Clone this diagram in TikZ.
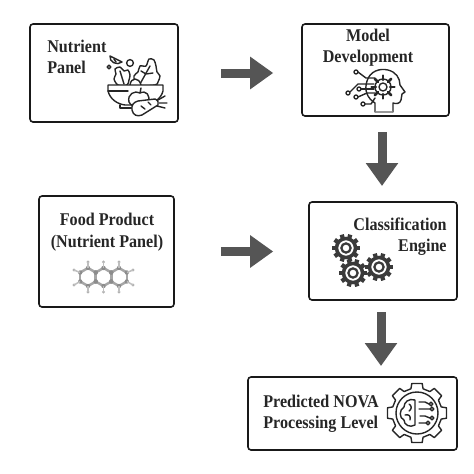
\documentclass[tikz,border=0pt]{standalone}
\usepackage{fontspec}
\setmainfont{Liberation Serif}
\newfontfamily\labfont[FakeStretch=0.9]{Liberation Serif}
\usetikzlibrary{arrows.meta}
\definecolor{flowgray}{HTML}{555555}
\definecolor{icongray}{HTML}{3A3A3A}

\newcommand{\gearteeth}[3]{% centre, radius, tooth count
    \begin{scope}[shift={(#1)}]
        \foreach \k in {1,...,#3} {
            \draw[line width=0.085cm,color=icongray] ({\k*360/#3}:#2*0.7) -- ({\k*360/#3}:#2);
        }
        \draw[line width=0.07cm,color=icongray] (0,0) circle (#2*0.68);
        \draw[line width=0.045cm,color=icongray] (0,0) circle (#2*0.33);
    \end{scope}
}

\begin{document}
\begin{tikzpicture}[
    x=0.02cm,y=-0.02cm,
    box/.style={draw=black!90,line width=0.032cm,rectangle,rounded corners=0.06cm,inner sep=0pt},
    lab/.style={font=\fontsize{10.2}{12.2}\labfont\bfseries,text=black!85,inner sep=0pt},
    flow/.style={-{Triangle[length=0.46cm,width=0.62cm]},line width=0.18cm,color=flowgray},
    icon/.style={line width=0.028cm,color=black!85,line join=round,line cap=round},
]

    \useasboundingbox (0,0) rectangle (474,474);

    % boxes
    \node[box,minimum width=2.96cm,minimum height=1.96cm] (panel) at (104,73) {};
    \node[box,minimum width=2.94cm,minimum height=1.84cm] (model) at (375.5,70) {};
    \node[box,minimum width=2.70cm,minimum height=2.22cm] (food) at (106.5,251.5) {};
    \node[box,minimum width=2.96cm,minimum height=1.96cm] (engine) at (383,251) {};
    \node[box,minimum width=4.18cm,minimum height=1.46cm] (nova) at (352.5,413.5) {};

    % labels
    \node[lab,align=left,anchor=west] (panellab) at (47,57) {Nutrient\\Panel};
    \node[lab,align=center] (modellab) at (368,47.5) {Model\\Development};
    \node[lab,align=center] (foodlab) at (107,232) {Food Product\\(Nutrient Panel)};
    \node[lab,align=right,anchor=east] (enginelab) at (447,236.5) {Classification\\Engine};
    \node[lab,align=left,anchor=west] (novalab) at (263,414) {Predicted NOVA\\Processing Level};

    % arrows
    \coordinate (down1a) at (382,132);
    \coordinate (down1b) at (382,186);
    \coordinate (down2a) at (381,312);
    \coordinate (down2b) at (381,366);
    \draw[flow,shorten <=0.84cm,shorten >=0.56cm] (panel.east) -- (panel.east -| model.west);
    \draw[flow,shorten <=0.92cm,shorten >=0.70cm] (food.east) -- (food.east -| engine.west);
    \draw[flow] (down1a) -- (down1b);
    \draw[flow] (down2a) -- (down2b);

    % salad bowl
    \begin{scope}[icon]
        \draw plot[smooth cycle] coordinates {(118,85) (114,79) (116,74) (115,69) (120,67) (124,71) (128,70) (130,75) (129,80) (127,85)};
        \draw (120,71) -- (124,84);
        \draw plot[smooth cycle] coordinates {(137,85) (134,76) (138,72) (140,66) (146,66) (149,59) (154,60) (156,66) (157,72) (160,76) (158,82) (155,85)};
        \draw (140,84) -- (150,66) (146,74) -- (141,71) (146,74) -- (153,73);
        \draw[fill=white] (130,85) .. controls (131,77) and (139,77) .. (141,85);
        \draw (110,56) -- (122,62) .. controls (117,66) and (109,62) .. (110,56) -- cycle;
        \draw (114,59) -- (116,62);
        \draw (130,63) circle (3.4);
        \draw (109,67) circle (1.8);
        \draw[fill=white] (108,85) -- (163,85) -- (163,91) .. controls (161,99) and (153,104) .. (146,105) -- (125,105)
            .. controls (117,104) and (110,99) .. (108,91) -- cycle;
        \draw (108,91) -- (128,91);
        \draw (120,105) -- (120,108) -- (132,108);
        % apple and carrot
        \draw[fill=white] (129,102) .. controls (127,94) and (135,90) .. (140,93) .. controls (146,90) and (151,95) .. (148,103)
            .. controls (145,108) and (132,109) .. (129,102);
        \draw (140,93) -- (141,88);
        \draw[fill=white] (132,110) .. controls (131,105) and (134,102) .. (138,101) -- (155,99) .. controls (158,100) and (159,103) .. (158,105)
            -- (142,115) .. controls (137,117) and (133,115) .. (132,110);
        \draw (141,106) -- (145,109) (148,102) -- (151,105);
        \draw (158,100) -- (165,96) (159,103) -- (167,103) (157,106) -- (165,108);
    \end{scope}

    % head with gear
    \begin{scope}[icon]
        \draw (375,112) -- (375,103) .. controls (367,98) and (364,90) .. (367,81) .. controls (370,71) and (380,68) .. (388,70)
            .. controls (396,72) and (400,78) .. (400,85) -- (405,92) -- (402,94) -- (401,100) .. controls (400,104) and (396,104) .. (393,103) -- (393,112) -- cycle;
        \draw[line width=0.05cm,color=black!40] (376,112) -- (392,112);
        \foreach \k in {0,45,...,315} {
            \draw[shift={(383,87)},line width=0.05cm] (\k:7) -- (\k:11.5);
        }
        \draw (383,87) circle (8);
        \draw (383,87) circle (4);
        \draw (356,72) circle (2) (348,93) circle (2) (359,89) circle (2) (356,97) circle (2) (363,104) circle (2);
        \draw (358,72) -- (366,78) -- (375,78);
        \draw (350,92) -- (358,84) -- (374,84);
        \draw (361,89) -- (374,89);
        \draw (358,97) -- (367,93) -- (375,93);
        \draw (365,104) -- (371,104) -- (375,98);
    \end{scope}

    % molecule
    \begin{scope}[line width=0.05cm,color=black!35]
        \foreach \cx in {88,103.5,119} {
            \foreach \k in {30,90,...,330} {
                \draw (\cx,277) ++(\k:9) -- ++(\k+120:9);
            }
        }
        \foreach \cx in {88,103.5,119} {
            \foreach \k in {30,90,...,330} {
                \fill[black!45] (\cx,277) ++(\k:9) circle (2.2);
            }
        }
        \foreach \hx/\hy in {88/262,103.5/262,119/262,88/292,103.5/292,119/292,74/270,74/285,133/270,133/285} {
            \fill[black!30] (\hx,\hy) circle (1.6);
        }
        \foreach \hx/\hy/\gx/\gy in {88/262/88/268,103.5/262/103.5/268,119/262/119/268,88/292/88/286,103.5/292/103.5/286,119/292/119/286,74/270/80/272.5,74/285/80/281.5,133/270/127/272.5,133/285/127/281.5} {
            \draw[line width=0.03cm,black!25] (\hx,\hy) -- (\gx,\gy);
        }
    \end{scope}

    % gears
    \gearteeth{346,248}{14}{10}
    \gearteeth{353,273}{14}{10}
    \gearteeth{379,267}{14}{10}

    % brain in gear
    \begin{scope}[icon,shift={(417,413)}]
        \draw (-10:30)
            \foreach \k in {0,45,...,315} {
                -- (\k+10:30) -- (\k+14:25) -- (\k+31:25) -- (\k+35:30)
            } -- cycle;
        \draw (0,0) circle (21);
        \draw (-2,-13) .. controls (-8,-15) and (-13,-11) .. (-13,-6) .. controls (-18,-3) and (-18,5) .. (-13,7)
            .. controls (-13,12) and (-7,15) .. (-2,12) -- cycle;
        \draw (-8,-9) .. controls (-5,-7) and (-5,-4) .. (-8,-2) (-12,2) .. controls (-8,1) and (-6,3) .. (-7,7);
        \draw (2,-11) -- (8,-11) -- (12,-9) (2,-4) -- (13,-4) (3,3) -- (8,3) -- (13,5) (2,10) -- (9,10);
        \draw (14,-9) circle (1.8) (15,-4) circle (1.8) (15,5) circle (1.8) (11,10) circle (1.8);
    \end{scope}

\end{tikzpicture}
\end{document}
